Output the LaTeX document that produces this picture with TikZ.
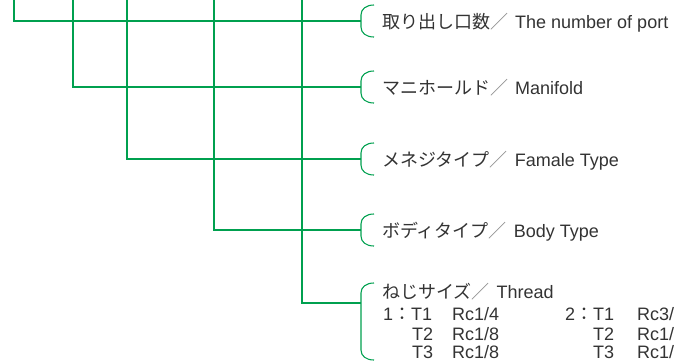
\documentclass[tikz,border=0pt]{standalone}
\usepackage{fontspec}
\setmainfont{Liberation Sans}
\newfontfamily\jp{Noto Sans CJK JP}
\definecolor{lg}{HTML}{00A04F}
\definecolor{tx}{HTML}{333333}
\tikzset{
  conn/.style={draw=lg, line width=1.1pt},
  brk/.style={draw=lg, line width=1.1pt},
  lbl/.style={anchor=base west, inner sep=0, text=tx, font=\fontsize{18}{20}\selectfont},
  sub/.style={anchor=base west, inner sep=0, text=tx, font=\fontsize{18}{20}\selectfont},
}
\newcommand\sep{{\jp\color{tx!60}／}\hspace{7pt}}
\begin{document}
\begin{tikzpicture}[x=1pt,y=-1pt]
\useasboundingbox (0,0) rectangle (675,360);
\clip (0,0) rectangle (675,360);
% start points at the top edge
\coordinate (s1) at (14,-2);
\coordinate (s2) at (73,-2);
\coordinate (s3) at (127,-2);
\coordinate (s4) at (214,-2);
\coordinate (s5) at (302,-2);
% bracket points
\coordinate (b1) at (361,21);
\coordinate (b2) at (361,87);
\coordinate (b3) at (361,159);
\coordinate (b4) at (361,230);
\coordinate (b5) at (361,303);
% connectors
\draw[conn] (s1) |- (b1);
\draw[conn] (s2) |- (b2);
\draw[conn] (s3) |- (b3);
\draw[conn] (s4) |- (b4);
\draw[conn] (s5) |- (b5);
% brackets
\foreach \b in {b1,b2,b3,b4}{
  \draw[brk] (\b) ++(13,-16) .. controls +(-8,0) and +(0,-6) .. ++(-13,10)
     -- ++(0,12) .. controls +(0,6) and +(-8,0) .. ++(13,10);
}
\draw[brk] (b5) ++(13,-20) .. controls +(-8,0) and +(0,-6) .. ++(-13,10)
     -- ++(0,57) .. controls +(0,6) and +(-8,0) .. ++(13,10);
% labels
\node[lbl] (l1) at (382,28) {{\jp 取り出し口数}\sep The number of port};
\node[lbl] (l2) at (382,94) {{\jp マニホールド}\sep Manifold};
\node[lbl] (l3) at (382,166.5) {{\jp メネジタイプ}\sep Famale Type};
\node[lbl] (l4) at (382,237) {{\jp ボディタイプ}\sep Body Type};
\node[lbl] (l5) at (382,298) {{\jp ねじサイズ}\sep Thread};
% thread table
\node[sub] (a1) at (383,320.5) {1{\jp ：}T1};
\node[sub] (a1r) at (452,320.5) {Rc1/4};
\node[sub] (a2) at (412,340) {T2};
\node[sub] (a2r) at (452,340) {Rc1/8};
\node[sub] (a3) at (412,358) {T3};
\node[sub] (a3r) at (452,358) {Rc1/8};
\node[sub] (c1) at (565,320.5) {2{\jp ：}T1};
\node[sub] (c1r) at (637,320.5) {Rc3/};
\node[sub] (c2) at (593,340) {T2};
\node[sub] (c2r) at (637,340) {Rc1/};
\node[sub] (c3) at (593,358) {T3};
\node[sub] (c3r) at (637,358) {Rc1/};
\end{tikzpicture}
\end{document}
